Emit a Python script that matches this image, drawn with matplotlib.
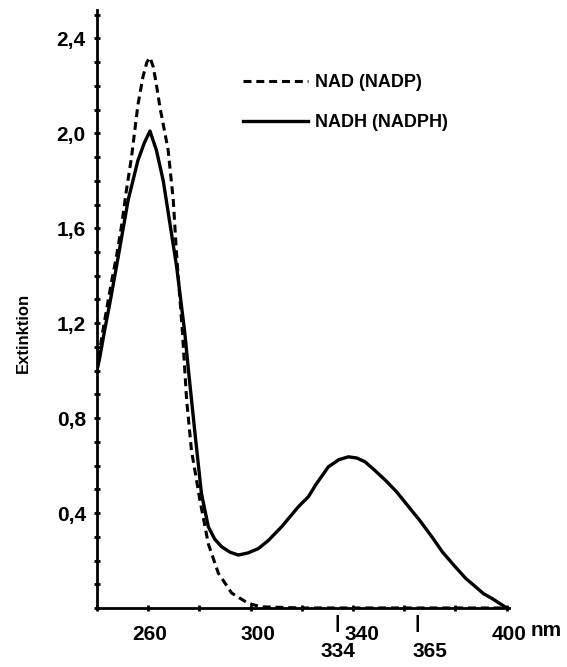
import numpy as np
import matplotlib.pyplot as plt
from matplotlib.ticker import MultipleLocator
from matplotlib.transforms import ScaledTranslation

plt.rcParams['font.family'] = ['Liberation Sans', 'DejaVu Sans']
plt.rcParams['font.weight'] = 'bold'

# NAD (NADP) - dashed curve
nad_wl = [240, 242, 245.6, 247.6, 249.6, 251.5, 253.5, 256, 258, 259.5, 260.7, 262, 263.3, 264.6,
          267.8, 269.8, 271.1, 273.4, 275, 276.9, 280.2, 283.5, 287.4, 292.6, 299, 304,
          320, 340, 360, 380, 400]
nad_ext = [1.0, 1.15, 1.37, 1.48, 1.61, 1.76, 1.90, 2.12, 2.24, 2.3, 2.32, 2.28, 2.2, 2.11,
           1.93, 1.72, 1.49, 1.16, 0.88, 0.665, 0.455, 0.27, 0.147, 0.063, 0.02, 0.005,
           0, 0, 0, 0, 0]

# NADH (NADPH) - solid curve
nadh_wl = [240, 241, 243, 245.3, 248.3, 252.2, 256, 258.5, 260.7, 263.2, 265.9, 268.5,
           271.1, 274.3, 275.6, 278.3, 280.8, 283.5, 286, 288.7, 292, 295.2, 299, 303,
           307, 312.1, 318.7, 322.6, 325.5, 330.4, 334.5, 338.2, 341.5, 344.7, 348,
           352.6, 357, 361.7, 366, 370.8, 375, 379.9, 384, 387.8, 391, 394.3, 398.2, 400]
nadh_ext = [1.0, 1.05, 1.17, 1.30, 1.48, 1.72, 1.886, 1.96, 2.01, 1.93, 1.80, 1.62,
            1.44, 1.16, 1.016, 0.735, 0.483, 0.342, 0.29, 0.258, 0.235, 0.223, 0.232, 0.25,
            0.285, 0.342, 0.427, 0.469, 0.52, 0.595, 0.625, 0.637, 0.632, 0.616, 0.585,
            0.539, 0.49, 0.427, 0.37, 0.30, 0.235, 0.174, 0.125, 0.09, 0.06, 0.04, 0.013, 0.0]

x_ticks = [260, 300, 340, 400]
x_label_shift = [2, 7, 9, 2]   # pixel offsets of the hand-set labels
y_ticks = [0.4, 0.8, 1.2, 1.6, 2.0, 2.4]
y_labels = ['0,4', '0,8', '1,2', '1,6', '2,0', '2,4']
marked_wl = [334, 365]
marked_shift = [0, 13]

fig = plt.figure(figsize=(5.67, 6.67), dpi=100)
ax = fig.add_axes([0.171, 0.0885, 0.727, 0.8965])

ax.plot(nad_wl, nad_ext, color='black', lw=2.2, linestyle=(0, (2.6, 1.6)),
        label='NAD (NADP)')
ax.plot(nadh_wl, nadh_ext, color='black', lw=2.4, label='NADH (NADPH)')

ax.set_xlim(240, 401)
ax.set_ylim(0, 2.52)

for s in ['top', 'right']:
    ax.spines[s].set_visible(False)
for s in ['left', 'bottom']:
    ax.spines[s].set_linewidth(2.0)

ax.set_yticks(y_ticks)
ax.set_yticklabels(y_labels)
ax.yaxis.set_minor_locator(MultipleLocator(0.1))
ax.set_xticks(x_ticks)
ax.set_xticklabels([str(v) for v in x_ticks])
ax.xaxis.set_minor_locator(MultipleLocator(20))
ax.tick_params(which='both', direction='inout', length=4, width=2, color='black')
ax.tick_params(axis='y', labelsize=15, pad=6)
ax.tick_params(axis='x', labelsize=15, pad=10)

for lab, dx in zip(ax.get_xticklabels(), x_label_shift):
    lab.set_transform(lab.get_transform() + ScaledTranslation(dx / 100, 0, fig.dpi_scale_trans))

ax.text(409.5, -0.095, 'nm', fontsize=15, fontweight='bold', ha='left', va='center',
        clip_on=False)
for wl, dx in zip(marked_wl, marked_shift):
    ax.text(wl, -0.065, '|', fontsize=14, fontweight='bold', ha='center', va='center',
            clip_on=False)
    ax.text(wl, -0.185, str(wl), fontsize=15, fontweight='bold', ha='center', va='center',
            clip_on=False,
            transform=ax.transData + ScaledTranslation(dx / 100, 0, fig.dpi_scale_trans))

ax.set_ylabel('Extinktion', fontsize=12, fontweight='bold')
ax.yaxis.set_label_coords(-0.16, 0.46)

ax.legend(loc='upper left', bbox_to_anchor=(243 / 567, 1 - 74 / 667),
          bbox_transform=fig.transFigure, frameon=False, fontsize=13,
          handlelength=3.6, handletextpad=0.4, labelspacing=1.3,
          borderpad=0, borderaxespad=0)

fig.savefig('out.png', dpi=100)
